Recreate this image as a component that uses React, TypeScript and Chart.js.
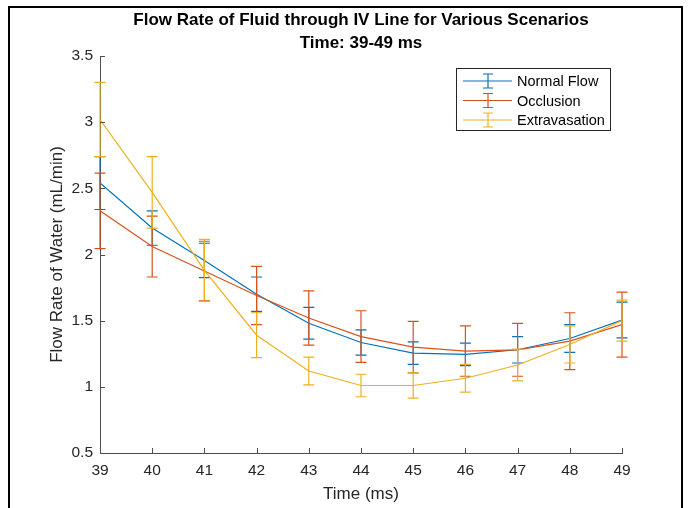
import React, { useEffect, useRef } from "react";
import { Chart, registerables } from "chart.js";

Chart.register(...registerables);

const times = [39, 40, 41, 42, 43, 44, 45, 46, 47, 48, 49];
const normalFlow = [2.54, 2.2, 1.955, 1.7, 1.48, 1.335, 1.255, 1.245, 1.28, 1.365, 1.505];
const normalErr = [0.2, 0.13, 0.13, 0.13, 0.12, 0.095, 0.085, 0.085, 0.1, 0.105, 0.135];
const occlusion = [2.33, 2.06, 1.875, 1.69, 1.52, 1.38, 1.3, 1.27, 1.28, 1.345, 1.47];
const occlusionErr = [0.285, 0.23, 0.225, 0.22, 0.205, 0.195, 0.195, 0.19, 0.2, 0.215, 0.245];
const extravasation = [3.02, 2.47, 1.88, 1.39, 1.12, 1.01, 1.01, 1.065, 1.165, 1.32, 1.5];
const extravasationErr = [0.28, 0.27, 0.235, 0.17, 0.105, 0.085, 0.095, 0.105, 0.12, 0.14, 0.155];
const yTickLabels = ["0.5", "1", "1.5", "2", "2.5", "3", "3.5"];
const seriesNames = ["Normal Flow", "Occlusion", "Extravasation"];
const seriesColors = ["#0072BD", "#D95319", "#EDB120"];
const titleLines = ["Flow Rate of Fluid through IV Line for Various Scenarios", "Time: 39-49 ms"];
const xLabel = "Time (ms)";
const yLabel = "Flow Rate of Water (mL/min)";
const FONT = "'Liberation Sans', Arial, Helvetica, sans-serif";

const errorBarPlugin = {
  id: "errorBars",
  afterDatasetDraw(chart: any, args: any) {
    const ds = chart.data.datasets[args.index];
    const errs: number[] = ds.errors;
    if (!errs) return;
    const yS = chart.scales.y;
    const ctx = chart.ctx;
    ctx.save();
    ctx.strokeStyle = ds.borderColor;
    ctx.lineWidth = 1.2;
    const cap = 5.5;
    args.meta.data.forEach((el: any, j: number) => {
      const v = ds.data[j].y;
      const x = el.x;
      const yt = yS.getPixelForValue(v + errs[j]);
      const yb = yS.getPixelForValue(v - errs[j]);
      ctx.beginPath();
      ctx.moveTo(x, yt);
      ctx.lineTo(x, yb);
      ctx.moveTo(x - cap, yt);
      ctx.lineTo(x + cap, yt);
      ctx.moveTo(x - cap, yb);
      ctx.lineTo(x + cap, yb);
      ctx.stroke();
    });
    ctx.restore();
  },
};

const decorPlugin = {
  id: "decor",
  afterDraw(chart: any) {
    const ctx = chart.ctx;
    const ca = chart.chartArea;
    const xS = chart.scales.x;
    const yS = chart.scales.y;
    ctx.save();
    // inward ticks
    ctx.strokeStyle = "#4d4d4d";
    ctx.lineWidth = 1;
    ctx.beginPath();
    xS.ticks.forEach((t: any) => {
      const px = Math.round(xS.getPixelForValue(t.value)) + 0.5;
      ctx.moveTo(px, ca.bottom);
      ctx.lineTo(px, ca.bottom - 5);
    });
    yS.ticks.forEach((t: any) => {
      const py = Math.round(yS.getPixelForValue(t.value)) + 0.5;
      ctx.moveTo(ca.left, py);
      ctx.lineTo(ca.left + 5, py);
    });
    ctx.stroke();

    // title
    ctx.fillStyle = "#000000";
    ctx.font = `bold 17px ${FONT}`;
    ctx.textAlign = "center";
    ctx.textBaseline = "middle";
    const cx = (ca.left + ca.right) / 2;
    ctx.fillText(titleLines[0], cx, 20);
    ctx.fillText(titleLines[1], cx, 43);

    // legend
    const lx = 456, ly = 68, lw = 154, lh = 62;
    ctx.fillStyle = "#ffffff";
    ctx.fillRect(lx, ly, lw, lh);
    ctx.strokeStyle = "#262626";
    ctx.lineWidth = 1;
    ctx.strokeRect(lx + 0.5, ly + 0.5, lw, lh);
    ctx.font = `14.5px ${FONT}`;
    ctx.textAlign = "left";
    ctx.fillStyle = "#000000";
    seriesNames.forEach((name, i) => {
      const y = 81 + i * 19.5;
      ctx.strokeStyle = seriesColors[i];
      ctx.lineWidth = 1.2;
      ctx.beginPath();
      ctx.moveTo(463, y);
      ctx.lineTo(512, y);
      ctx.moveTo(488, y - 7);
      ctx.lineTo(488, y + 7);
      ctx.moveTo(483, y - 7);
      ctx.lineTo(493, y - 7);
      ctx.moveTo(483, y + 7);
      ctx.lineTo(493, y + 7);
      ctx.stroke();
      ctx.fillStyle = "#000000";
      ctx.fillText(name, 517, y + 1);
    });

    // figure border
    ctx.strokeStyle = "#000000";
    ctx.lineWidth = 2;
    ctx.beginPath();
    ctx.moveTo(9, 508);
    ctx.lineTo(9, 7);
    ctx.lineTo(682, 7);
    ctx.lineTo(682, 508);
    ctx.stroke();
    ctx.restore();
  },
};

export default function App() {
  const ref = useRef<HTMLCanvasElement | null>(null);
  useEffect(() => {
    if (!ref.current) return;
    const mk = (vals: number[]) => times.map((t, i) => ({ x: t, y: vals[i] }));
    const values = [normalFlow, occlusion, extravasation];
    const errors = [normalErr, occlusionErr, extravasationErr];
    const chart = new Chart(ref.current, {
      type: "line",
      data: {
        datasets: seriesNames.map((name, i) => ({
          label: name,
          data: mk(values[i]),
          errors: errors[i],
          borderColor: seriesColors[i],
          backgroundColor: seriesColors[i],
          borderWidth: 1.2,
          pointRadius: 0,
          tension: 0,
          fill: false,
          order: 3 - i,
        })) as any,
      },
      options: {
        animation: false,
        responsive: false,
        devicePixelRatio: 1,
        layout: { padding: { top: 56, right: 69, bottom: 0, left: 0 } },
        plugins: {
          legend: { display: false },
          title: { display: false },
          tooltip: { enabled: false },
        },
        scales: {
          x: {
            type: "linear",
            min: 39,
            max: 49,
            afterFit: (s: any) => {
              s.height = 55;
            },
            ticks: {
              stepSize: 1,
              color: "#262626",
              padding: 8,
              font: { family: FONT, size: 15.5 },
            },
            grid: { display: false, drawTicks: false },
            border: { display: true, color: "#4d4d4d", width: 1 },
            title: {
              display: true,
              text: xLabel,
              color: "#262626",
              font: { family: FONT, size: 17 },
              padding: { top: 0, bottom: 3.5 },
            },
          },
          y: {
            type: "linear",
            min: 0.5,
            max: 3.5,
            afterFit: (s: any) => {
              s.width = 100;
            },
            ticks: {
              stepSize: 0.5,
              color: "#262626",
              padding: 7,
              font: { family: FONT, size: 15.5 },
              callback: (_v: any, i: number) => yTickLabels[i],
            },
            grid: { display: false, drawTicks: false },
            border: { display: true, color: "#4d4d4d", width: 1 },
            title: {
              display: true,
              text: yLabel,
              color: "#262626",
              font: { family: FONT, size: 17 },
              padding: { top: 46.8, bottom: 0 },
            },
          },
        },
      },
      plugins: [errorBarPlugin, decorPlugin],
    } as any);
    return () => chart.destroy();
  }, []);
  return (
    <div style={{ position: "fixed", left: 0, top: 0, width: 691, height: 508, background: "#ffffff" }}>
      <canvas ref={ref} width={691} height={508} style={{ display: "block", width: 691, height: 508 }} />
    </div>
  );
}
